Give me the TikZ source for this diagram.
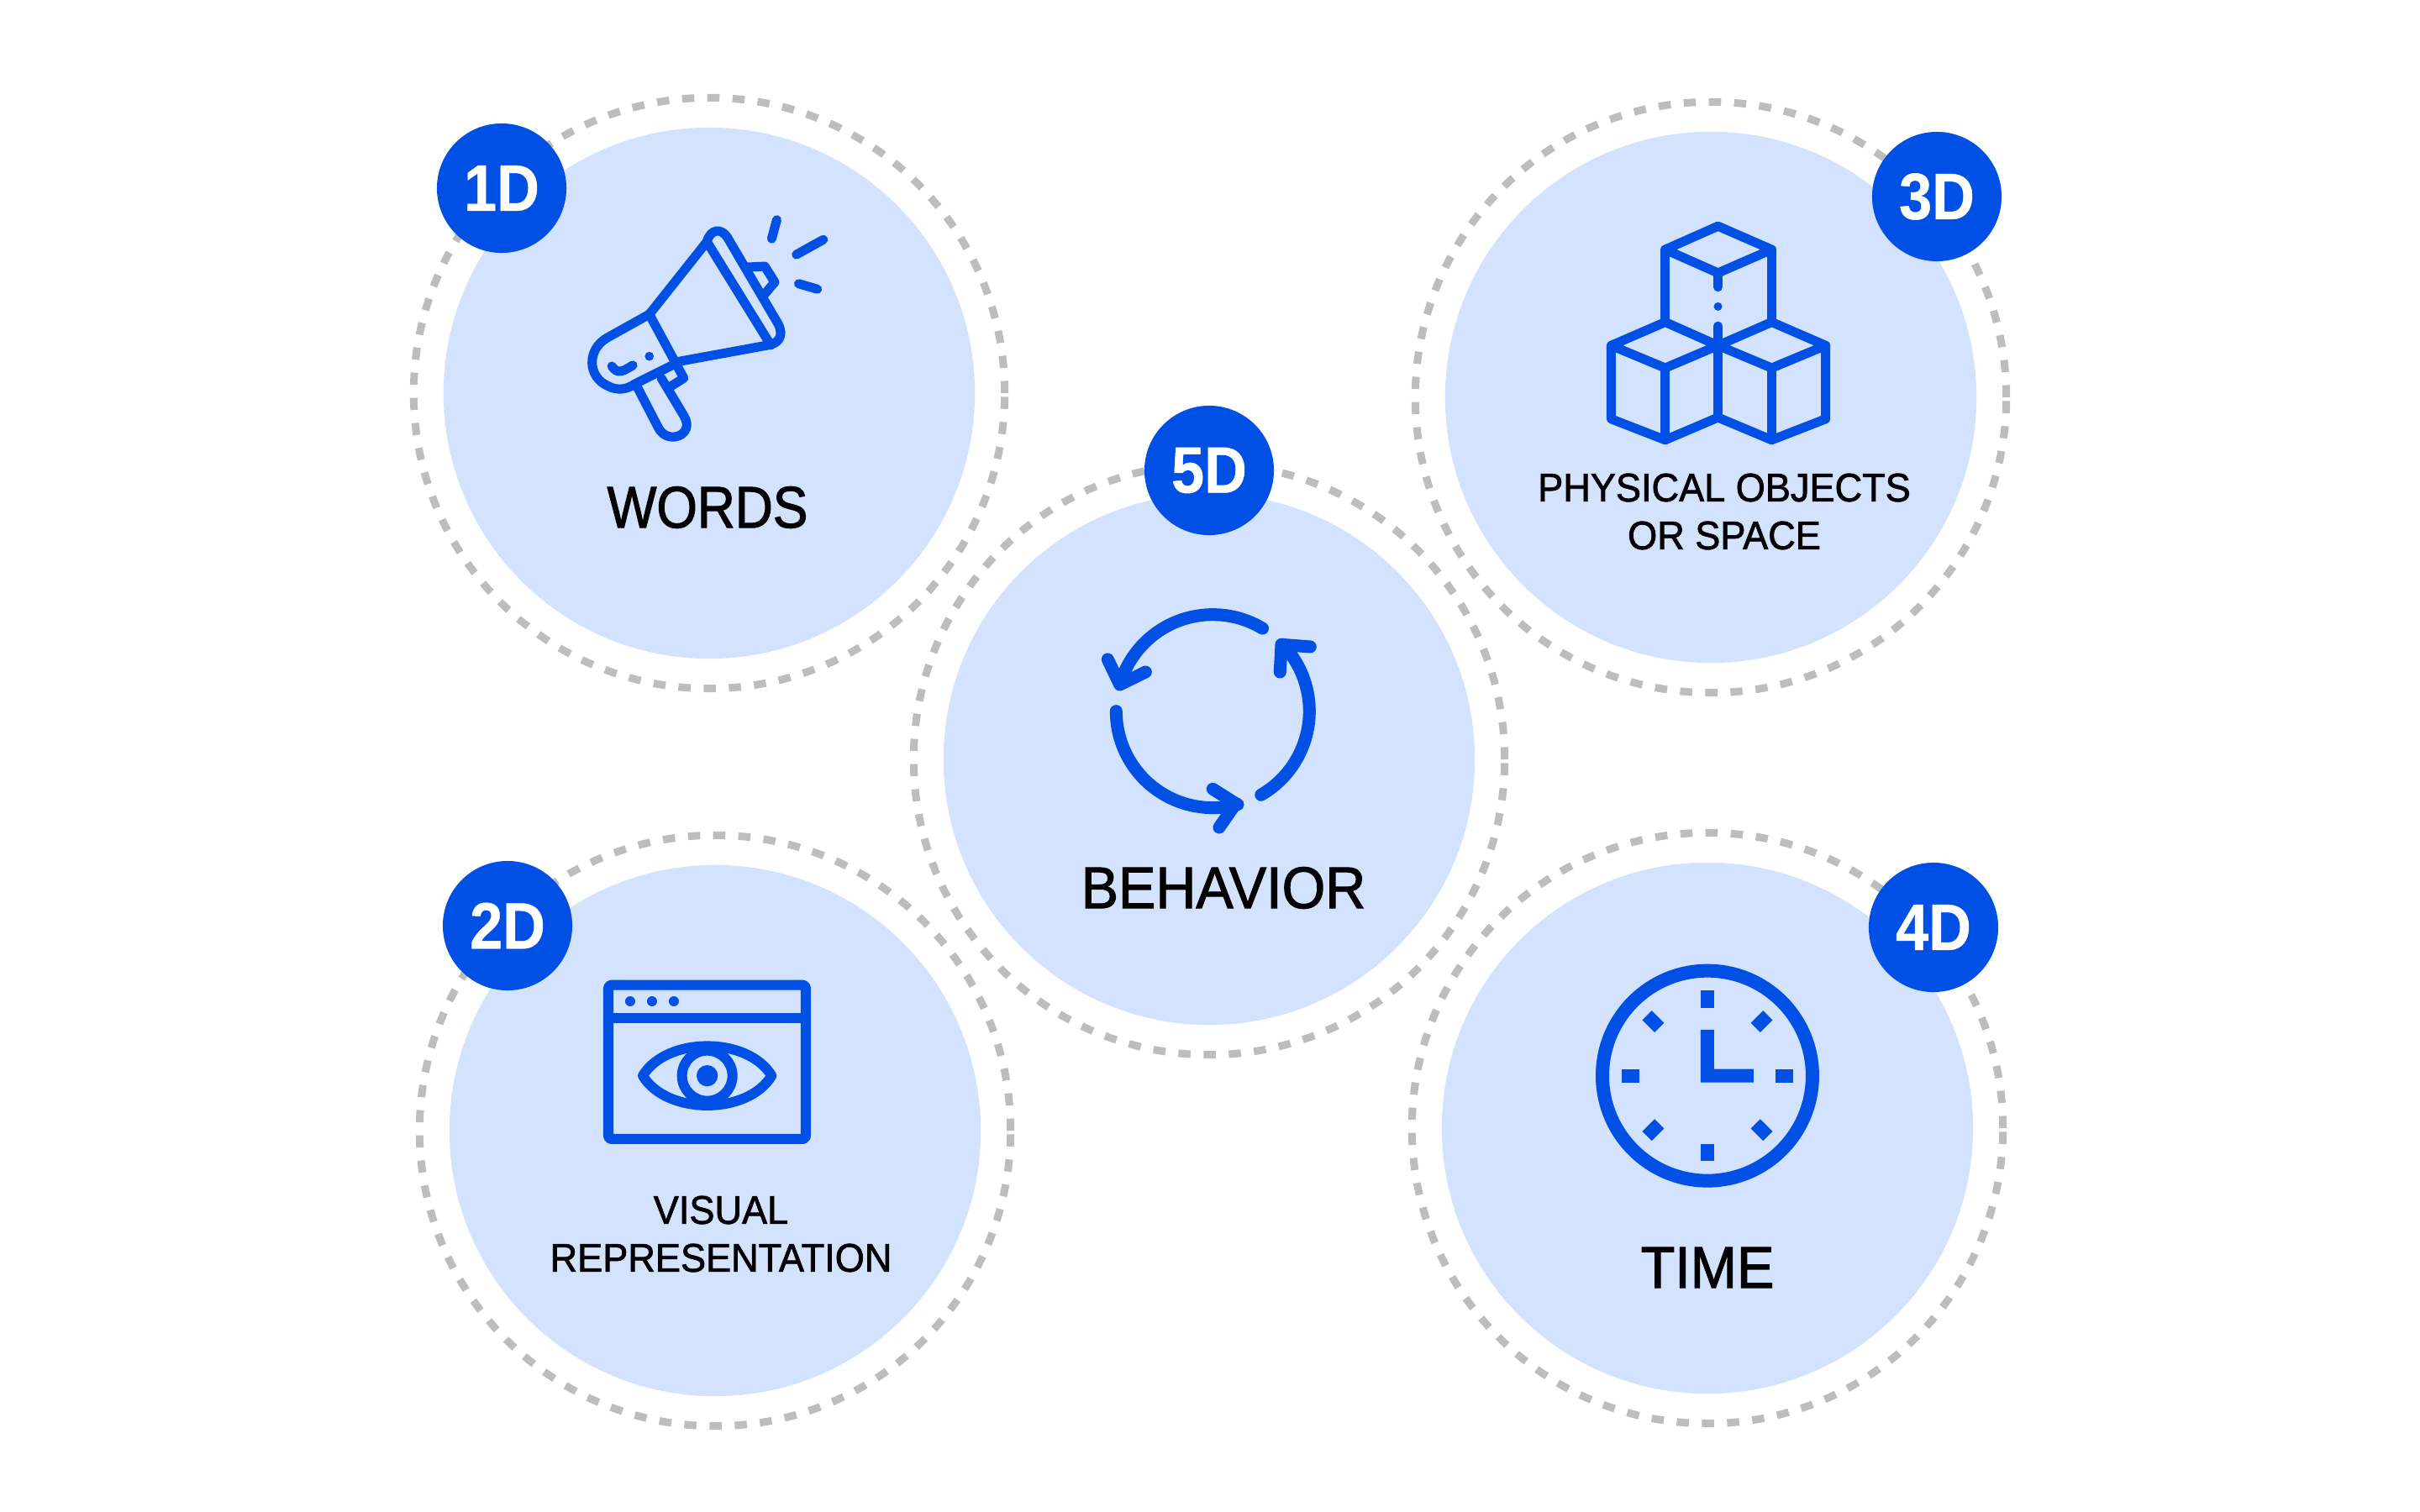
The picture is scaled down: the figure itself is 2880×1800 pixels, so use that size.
\documentclass[tikz,border=0pt]{standalone}
\usepackage{xcolor}
\usepackage{tikz}
\usepackage{fontspec}
\setmainfont[FakeStretch=0.95,FakeBold=1.6]{Liberation Sans}
\newfontfamily\wordsfont[FakeStretch=0.89,FakeBold=1.6]{Liberation Sans}
\newfontfamily\badgefont[FakeStretch=0.9,FakeBold=0.6]{Liberation Sans Bold}
\definecolor{iconblue}{HTML}{0050E6}
\definecolor{discblue}{HTML}{D2E2FF}
\definecolor{ringgray}{HTML}{BDBDBD}
\tikzset{
	ring/.style={circle, draw=ringgray, line width=0.9mm, dash pattern=on 1.45mm off 1.55mm, minimum size=7.03cm, inner sep=0},
	disc/.style={circle, fill=discblue, minimum size=6.32cm, inner sep=0},
	badge/.style={circle, fill=iconblue, text=white, minimum size=1.54cm, inner sep=0, font=\badgefont\fontsize{22.2}{22.2}\selectfont},
	biglabel/.style={align=center, inner sep=0, font=\fontsize{19.9}{24}\selectfont},
	smalllabel/.style={align=center, inner sep=0, font=\fontsize{13.5}{16.2}\selectfont},
	icon/.style={draw=iconblue, line width=1.1mm, line join=round, line cap=round}
}
\begin{document}
\begin{tikzpicture}[x=0.01cm, y=-0.01cm]
	\useasboundingbox (0, 0) rectangle (2880, 1800);

	\node[ring] (R1) at (844, 468) {};
	\node[ring] (R2) at (851, 1346) {};
	\node[ring] (R3) at (2036, 473) {};
	\node[ring] (R4) at (2032, 1343) {};
	\node[ring] (R5) at (1439, 904) {};

	\node[disc] (D1) at (844, 468) {};
	\node[disc] (D2) at (851, 1346) {};
	\node[disc] (D3) at (2036, 473) {};
	\node[disc] (D4) at (2032, 1343) {};
	\node[disc] (D5) at (1439, 904) {};

	\node[badge] (B1) at (597, 224) {1D};
	\node[badge] (B2) at (604, 1102) {2D};
	\node[badge] (B3) at (2305, 234) {3D};
	\node[badge] (B4) at (2301, 1104) {4D};
	\node[badge] (B5) at (1439, 560) {5D};

	\node[biglabel, font=\wordsfont\fontsize{19.9}{24}\selectfont] (L1) at (842, 604) {WORDS};
	\node[smalllabel] (L2) at (858, 1469) {VISUAL\\REPRESENTATION};
	\node[smalllabel] (L3) at (2052, 609) {PHYSICAL OBJECTS\\OR SPACE};
	\node[biglabel] (L4) at (2032, 1509) {TIME};
	\node[biglabel] (L5) at (1456, 1057) {BEHAVIOR};

	\begin{scope}[shift={(480, 120)}, scale=0.357]
		\draw[icon] (820, 712) -- (1012, 470) (1012, 470) -- (1225, 815);
		\draw[icon] (1012, 470) .. controls (1025, 425) and (1060, 425) .. (1080, 455) -- (1250, 745) .. controls (1270, 785) and (1250, 810) .. (1215, 815) -- (915, 870);
		\draw[icon] (1140, 555) -- (1205, 552) -- (1238, 605) -- (1200, 650);
		\draw[icon] (820, 712) -- (935, 925) -- (895, 950);
		\draw[icon] (820, 712) -- (680, 790) .. controls (610, 830) and (615, 920) .. (680, 950) .. controls (715, 970) and (750, 960) .. (770, 945) -- (900, 880);
		\draw[icon] (780, 955) -- (850, 1090) .. controls (880, 1150) and (975, 1115) .. (935, 1050) -- (860, 925);
		\draw[icon] (1245, 397) -- (1228, 460);
		\draw[icon] (1310, 513) -- (1400, 463);
		\draw[icon] (1318, 610) -- (1380, 628);
		\draw[icon] (695, 885) .. controls (715, 915) and (735, 900) .. (765, 882);
		\fill[iconblue] (820, 852) circle[radius=15];
	\end{scope}

	\begin{scope}[shift={(660, 1130)}, scale=0.3333]
		\draw[icon, line width=1.2mm, rounded corners=1pt] (192, 128) rectangle (897, 678);
		\draw[icon, line width=1.2mm, line cap=butt] (192, 245) -- (897, 245);
		\fill[iconblue] (270, 186) circle[radius=18] (348, 186) circle[radius=18] (426, 186) circle[radius=18];
		\draw[icon, line width=1.2mm] (315, 452) .. controls (400, 311) and (690, 311) .. (775, 452) .. controls (690, 593) and (400, 593) .. (315, 452) -- cycle;
		\draw[icon, line width=1.2mm] (545, 452) circle[radius=90];
		\fill[iconblue] (545, 452) circle[radius=38];
	\end{scope}

	\begin{scope}[shift={(1840, 140)}, scale=0.357]
		\draw[icon] (573, 362) -- (397, 440) -- (573, 518) -- (752, 440) -- cycle;
		\draw[icon] (397, 440) -- (397, 682) (752, 440) -- (752, 682) (573, 518) -- (573, 565);
		\fill[iconblue] (573, 630) circle[radius=14];
		\draw[icon] (573, 695) -- (573, 1000);
		\draw[icon] (397, 682) -- (217, 760) -- (397, 835) -- (573, 760) -- cycle;
		\draw[icon] (217, 760) -- (217, 1005) -- (397, 1075) -- (573, 1000) -- (752, 1075) -- (932, 1005) -- (932, 760);
		\draw[icon] (397, 835) -- (397, 1075) (752, 835) -- (752, 1075);
		\draw[icon] (752, 682) -- (932, 760) -- (752, 835) -- (573, 760) -- cycle;
	\end{scope}

	\begin{scope}[shift={(1860, 1120)}, scale=0.3333]
		\draw[icon, line width=1.6mm] (516, 482) circle[radius=375];
		\foreach \a in {0, 45, ..., 315}
			\draw[icon, line width=1.6mm, line cap=butt] (516, 482) ++(\a:243) -- ++(\a:62);
		\fill[iconblue] (492, 318) -- (540, 318) -- (540, 458) -- (681, 458) -- (681, 506) -- (492, 506) -- cycle;
	\end{scope}

	\begin{scope}[shift={(1240, 660)}, scale=0.3333]
		\draw[icon, line width=1.5mm] (610, 560) ++(-59:345) arc[start angle=-59, end angle=-160, radius=345];
		\draw[icon, line width=1.5mm] (235, 375) -- (278, 465) -- (370, 420);
		\draw[icon, line width=1.5mm] (610, 560) ++(60:345) arc[start angle=60, end angle=-38, radius=345];
		\draw[icon, line width=1.5mm] (850, 420) -- (855, 322) -- (958, 330);
		\draw[icon, line width=1.5mm] (610, 560) ++(180:345) arc[start angle=180, end angle=75, radius=345] -- (692, 890);
		\draw[icon, line width=1.5mm] (610, 838) -- (692, 890) -- (633, 975);
	\end{scope}
\end{tikzpicture}
\end{document}
